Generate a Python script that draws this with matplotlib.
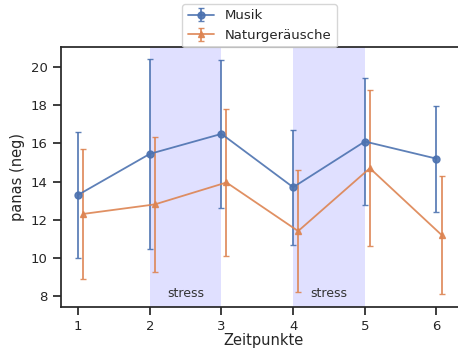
import numpy as np
import seaborn as sns
from matplotlib import pyplot as plt

zeitpunkte = [1, 2, 3, 4, 5, 6]
musik_mean = [13.3, 15.45, 16.5, 13.7, 16.1, 15.2]
musik_err = [3.3, 5.0, 3.87, 3.03, 3.35, 2.78]
natur_mean = [12.3, 12.8, 13.95, 11.4, 14.7, 11.2]
natur_err = [3.4, 3.55, 3.88, 3.2, 4.1, 3.1]
stress_phasen = [(2, 3), (4, 5)]


def main():
    sns.set_theme(style="ticks", palette="deep")
    fig = plt.figure(figsize=(4.58, 3.52), dpi=100)
    ax = fig.add_axes([0.133, 0.128, 0.885, 0.738])

    for a, b in stress_phasen:
        ax.axvspan(a, b, color="blue", alpha=0.12, lw=0)
        ax.text((a + b) / 2, 8.1, "stress", ha="center", va="center",
                fontsize=9, color="#333333")

    x = np.array(zeitpunkte, dtype=float)
    ax.errorbar(x, musik_mean, yerr=musik_err, marker="o", capsize=2.5,
                label="Musik", markersize=5, lw=1.3, alpha=0.9)
    ax.errorbar(x + 0.07, natur_mean, yerr=natur_err, marker="^", capsize=2.5,
                label="Naturgeräusche", markersize=5, lw=1.3, alpha=0.9)

    ax.set_xlim(0.76, 6.415)
    ax.set_ylim(7.42, 21.05)
    ax.set_xticks(zeitpunkte)
    ax.set_yticks([8, 10, 12, 14, 16, 18, 20])
    ax.tick_params(labelsize=9.5)
    ax.set_xlabel("Zeitpunkte", fontsize=10.5, labelpad=0)
    ax.set_ylabel("panas (neg)", fontsize=10.5)
    # Legende mittig über der Achse, wie im Original leicht angeschnitten
    ax.legend(loc="lower center", bbox_to_anchor=(0.49, 0.995), fontsize=9.5,
              borderaxespad=0.1)

    fig.savefig("out.png", dpi=100)


main()
